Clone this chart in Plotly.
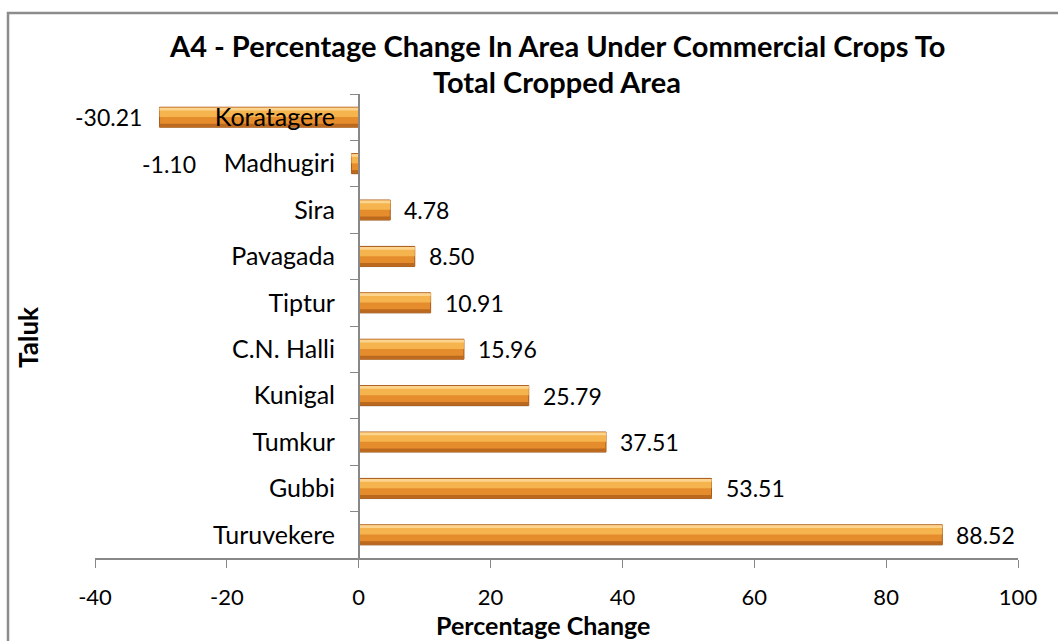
import plotly.graph_objects as go

# taluks listed top to bottom as in the chart
taluks = ["Koratagere", "Madhugiri", "Sira", "Pavagada", "Tiptur",
          "C.N. Halli", "Kunigal", "Tumkur", "Gubbi", "Turuvekere"]
pct_change = [-30.21, -1.10, 4.78, 8.50, 10.91, 15.96, 25.79, 37.51, 53.51, 88.52]

x_ticks = [-40, -20, 0, 20, 40, 60, 80, 100]

FONT = "Lato"
W, H = 1058, 641
L, R, T, B = 95, 40, 94, 83
plot_w = W - L - R
plot_h = H - T - B

fig = go.Figure()

# fake bevel: stacked overlay bars of the same values
layers = [
    dict(offset=-0.195, width=0.43, color="rgba(0,0,0,0.12)", line=0),
    dict(offset=-0.215, width=0.43, color="#E58C2C", line=1),
    dict(offset=-0.205, width=0.2, color="#F6B44E", line=0),
    dict(offset=-0.205, width=0.06, color="#FCD48E", line=0),
    dict(offset=0.14, width=0.065, color="#BB691E", line=0),
]
for ly in layers:
    fig.add_trace(go.Bar(
        x=pct_change, y=taluks, orientation="h",
        offset=ly["offset"], width=ly["width"],
        marker=dict(color=ly["color"],
                    line=dict(color="#A85A18", width=ly["line"])),
        hoverinfo="skip" if ly["line"] == 0 else None,
        showlegend=False,
    ))

# data labels
extra_shift = {"Madhugiri": -137}
for name, v in zip(taluks, pct_change):
    neg = v < 0
    fig.add_annotation(
        x=v, y=name, xref="x", yref="y",
        text=f"{v:.2f}", showarrow=False,
        xanchor="right" if neg else "left",
        xshift=(-16 if neg else 12) + extra_shift.get(name, 0),
        font=dict(family=FONT, size=23, color="#000000"),
    )

# title, two lines
fig.add_annotation(x=0.5, y=1, xref="paper", yref="paper", yshift=49,
                   text="<b>A4 - Percentage Change In Area Under Commercial Crops To</b>",
                   showarrow=False, yanchor="middle",
                   font=dict(family=FONT, size=29, color="#000000"))
fig.add_annotation(x=0.5, y=1, xref="paper", yref="paper", yshift=13,
                   text="<b>Total Cropped Area</b>",
                   showarrow=False, yanchor="middle",
                   font=dict(family=FONT, size=29, color="#000000"))

# axis titles
fig.add_annotation(x=(543 - L) / plot_w, y=0, xref="paper", yref="paper", yshift=-67,
                   text="<b>Percentage Change</b>", showarrow=False, yanchor="middle",
                   font=dict(family=FONT, size=25, color="#000000"))
fig.add_annotation(x=0, y=(T + plot_h - 338) / plot_h, xref="paper", yref="paper", xshift=-67,
                   text="<b>Taluk</b>", showarrow=False, textangle=-90, xanchor="center",
                   yanchor="middle",
                   font=dict(family=FONT, size=26, color="#000000"))

# outer chart frame
fig.add_shape(type="rect", xref="paper", yref="paper",
              x0=(8 - L) / plot_w, x1=(W + 20 - L) / plot_w,
              y0=(T + plot_h - (H + 20)) / plot_h, y1=(T + plot_h - 13) / plot_h,
              line=dict(color="#8C8C8C", width=2.5), fillcolor="rgba(0,0,0,0)")

zero_pos = (0 - x_ticks[0]) / (x_ticks[-1] - x_ticks[0])

fig.update_layout(
    width=W, height=H, autosize=False,
    margin=dict(l=L, r=R, t=T, b=B),
    barmode="overlay",
    plot_bgcolor="white", paper_bgcolor="white",
    font=dict(family=FONT, size=22, color="#000000"),
    xaxis=dict(range=[x_ticks[0], x_ticks[-1]], tickvals=x_ticks,
               ticktext=[str(t) for t in x_ticks],
               showgrid=False, zeroline=False, showline=True,
               linecolor="#888888", linewidth=1.5,
               ticks="outside", ticklen=8, tickcolor="#888888",
               ticklabelstandoff=11, fixedrange=True),
    yaxis=dict(categoryorder="array", categoryarray=taluks, autorange="reversed",
               anchor="free", position=zero_pos, side="left",
               showgrid=False, zeroline=False, showline=True,
               linecolor="#888888", linewidth=1.5,
               ticks="outside", ticklen=8, tickcolor="#888888",
               tickson="boundaries", ticklabelstandoff=18,
               tickfont=dict(family=FONT, size=25), fixedrange=True),
)

fig.write_html("out.html", config={"displayModeBar": False},
               post_script="document.body.style.margin='0';")
